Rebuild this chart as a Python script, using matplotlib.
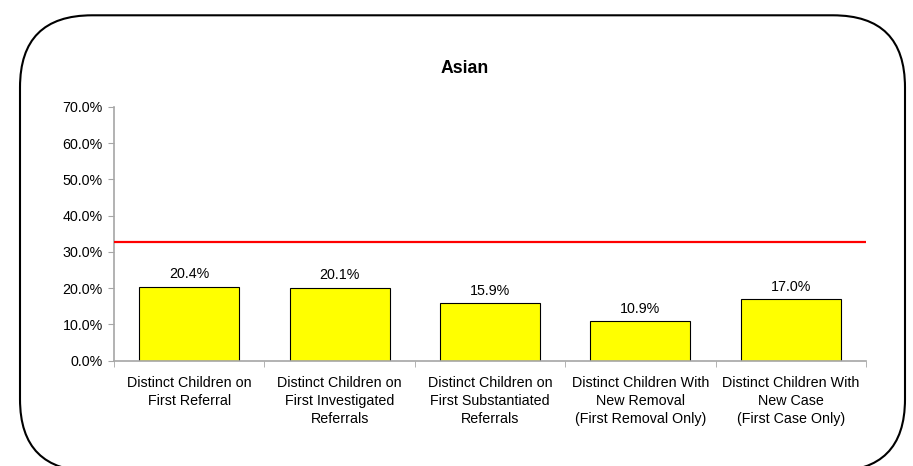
import numpy as np
import matplotlib
matplotlib.use("Agg")
import matplotlib.pyplot as plt
from matplotlib.patches import FancyBboxPatch
from matplotlib.ticker import FuncFormatter, MultipleLocator

plt.rcParams['font.family'] = ['Liberation Sans', 'DejaVu Sans']

# datos
categories = [
    "Distinct Children on\nFirst Referral",
    "Distinct Children on\nFirst Investigated\nReferrals",
    "Distinct Children on\nFirst Substantiated\nReferrals",
    "Distinct Children With\nNew Removal\n(First Removal Only)",
    "Distinct Children With\nNew Case\n(First Case Only)",
]
values = [20.4, 20.1, 15.9, 10.9, 17.0]
reference_line = 32.8
title = "Asian"

fig = plt.figure(figsize=(9.13, 4.66), dpi=100)
ax = fig.add_axes([0.1249, 0.226, 0.8236, 0.5444])

x = np.arange(len(values))
ax.bar(x, values, width=0.665, color='#FFFF00', edgecolor='black', linewidth=0.8, zorder=2)
for xi, v in zip(x, values):
    ax.text(xi, v + 1.5, f"{v:.1f}%", ha='center', va='bottom', fontsize=10.3)

ax.axhline(reference_line, color='#FF0000', linewidth=1.6, zorder=3)

ax.set_xlim(-0.5, len(values) - 0.5)
ax.set_ylim(0, 70)
ax.yaxis.set_major_locator(MultipleLocator(10))
ax.yaxis.set_major_formatter(FuncFormatter(lambda v, p: f"{v:.1f}%"))

ax.set_xticks(x)
ax.set_xticklabels(categories, fontsize=10.3, linespacing=1.38)
ax.set_xticks(np.arange(len(values) + 1) - 0.5, minor=True)
ax.tick_params(axis='x', which='major', length=0, pad=11)
ax.tick_params(axis='x', which='minor', length=4, color='#A6A6A6')
ax.tick_params(axis='y', length=4, color='#A6A6A6', labelsize=10.3, pad=4)

for s in ['top', 'right']:
    ax.spines[s].set_visible(False)
for s in ['left', 'bottom']:
    ax.spines[s].set_color('#A6A6A6')
    ax.spines[s].set_linewidth(1.2)

fig.text(0.509, 0.854, title, ha='center', va='center', fontsize=12.7, fontweight='bold')

# marco redondeado
box = FancyBboxPatch((0.20, -0.053), 8.85, 4.56,
                     boxstyle="round,pad=0,rounding_size=0.72",
                     transform=fig.dpi_scale_trans, facecolor='none',
                     edgecolor='black', linewidth=1.5, clip_on=False)
fig.add_artist(box)

fig.savefig("out.png", dpi=100)
